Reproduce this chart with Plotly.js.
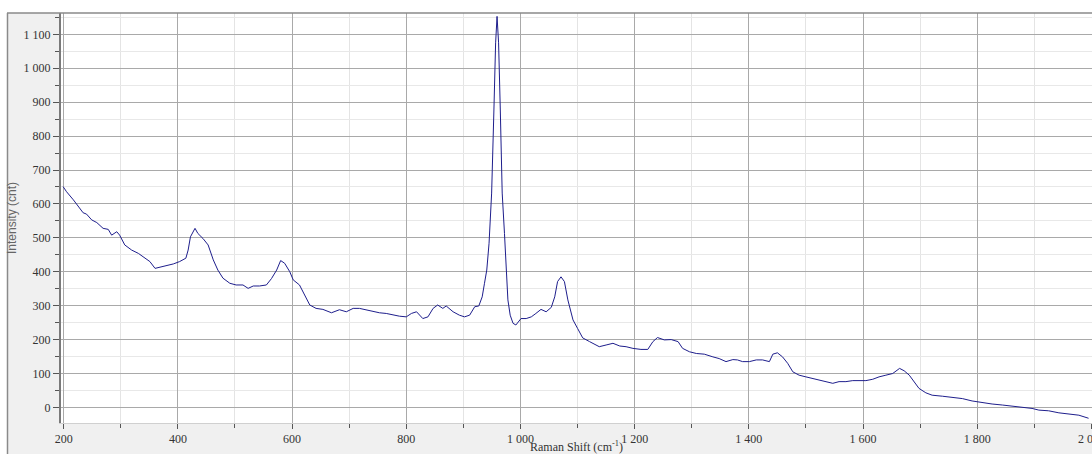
<!DOCTYPE html>
<html>
<head>
<meta charset="utf-8">
<script src="https://cdn.plot.ly/plotly-3.0.1.min.js"></script>
<style>html,body{margin:0;padding:0;background:#fff;}#chart{width:1092px;height:454px;}</style>
</head>
<body>
<div id="chart"></div>
<script>
const ramanShift = [199,205,217,226,234,240,249,258,269,278,284,293,298,307,319,331,342,351,360,368,380,392,403,414,418,422,430,435,444,453,462,470,479,491,502,514,523,532,543,555,564,573,580,587,596,602,613,622,631,642,654,669,683,695,707,718,730,742,753,765,777,788,800,809,818,829,838,847,855,864,870,882,893,902,911,920,927,933,937,941,945,949.5,953.5,956.5,959,961.7,964.7,968,972,975,978,982,987,992,1001,1010,1019,1027,1036,1045,1054,1060,1065,1071,1077,1083,1092,1100,1109,1121,1138,1150,1162,1174,1185,1197,1211,1223,1232,1240,1252,1264,1276,1284,1296,1308,1322,1337,1348,1360,1372,1380,1389,1401,1413,1424,1436,1442,1450,1459,1468,1477,1488,1500,1512,1523,1535,1547,1558,1570,1582,1593,1605,1617,1628,1640,1652,1664,1672,1681,1689,1698,1710,1721,1739,1757,1774,1791,1809,1826,1844,1861,1879,1896,1908,1925,1943,1960,1978,1995];
const intensity = [651,636,612,592,574,570,553,545,528,525,508,518,508,479,464,454,442,430,410,413,417,423,430,440,464,503,528,513,498,479,435,405,381,366,361,361,351,358,358,361,380,405,433,425,400,376,361,331,302,292,289,279,288,282,292,292,287,282,279,277,272,269,267,277,282,262,267,292,302,292,299,282,272,267,272,297,299,326,366,405,484,632,877,1075,1153,1075,877,632,513,395,317,272,248,243,262,262,267,277,289,282,295,326,371,385,371,317,258,233,205,194,179,184,189,181,179,174,171,171,194,206,199,200,194,174,164,159,157,149,144,135,141,140,135,135,140,140,135,157,161,149,130,105,95,90,85,81,76,71,76,76,79,79,79,83,90,95,100,115,108,95,76,56,43,36,33,29,26,19,14,10,7,4,0,-3,-8,-10,-16,-20,-23,-32];

const xTitle = 'Raman Shift (cm<sup>-1</sup>)';
const yTitle = 'Intensity (cnt)';

const tickFont = {family: 'Liberation Serif, Times New Roman, serif', size: 12, color: '#333'};

const trace = {
  x: ramanShift, y: intensity, type: 'scatter', mode: 'lines',
  line: {color: '#1e1e8c', width: 1}, hoverinfo: 'skip', showlegend: false
};

const L = 61, T = 13, W = 1092, H = 454, B = 31;
const pw = W - L, ph = H - T - B;
const px = v => (v - L) / pw;
const py = v => (H - B - v) / ph;

const layout = {
  width: W, height: H,
  margin: {l: L, r: 0, t: T, b: B, pad: 0},
  paper_bgcolor: '#ffffff', plot_bgcolor: '#ffffff',
  separators: '. ',
  font: tickFont,
  xaxis: {
    range: [195.3, 2001], tickmode: 'linear', tick0: 200, dtick: 200, tickformat: ',d',
    ticklabeloverflow: 'allow',
    showgrid: true, gridcolor: '#a9a9a9', gridwidth: 1,
    ticks: 'outside', ticklen: 5, tickcolor: '#555', tickwidth: 1,
    minor: {dtick: 100, showgrid: true, gridcolor: '#e4e4e4', ticks: 'outside', ticklen: 4, tickcolor: '#555'},
    showline: true, linecolor: '#d0d0d0', linewidth: 1,
    zeroline: false, tickfont: tickFont,
    title: {text: xTitle, font: tickFont, standoff: 4}
  },
  yaxis: {
    range: [-46, 1163], tickmode: 'linear', tick0: 0, dtick: 100, tickformat: ',d',
    showgrid: true, gridcolor: '#a9a9a9', gridwidth: 1,
    ticks: 'outside', ticklen: 6, tickcolor: '#555', tickwidth: 1,
    minor: {dtick: 50, showgrid: true, gridcolor: '#e8e8e8', ticks: 'outside', ticklen: 4, tickcolor: '#555'},
    showline: true, linecolor: '#7a7a7a', linewidth: 2,
    zeroline: false, tickfont: tickFont,
    title: {text: yTitle, font: {family: 'Liberation Sans, Arial, sans-serif', size: 12, color: '#666'}, standoff: 4}
  },
  shapes: [
    {type: 'rect', xref: 'paper', yref: 'paper', x0: px(7), x1: 0, y0: py(H), y1: 1, fillcolor: '#f0f0f0', line: {width: 0}, layer: 'below'},
    {type: 'rect', xref: 'paper', yref: 'paper', x0: 0, x1: 1.01, y0: py(H), y1: 0, fillcolor: '#f0f0f0', line: {width: 0}, layer: 'below'},
    {type: 'line', xref: 'paper', yref: 'paper', x0: px(7.5), x1: px(7.5), y0: py(H), y1: 1, line: {color: '#8a8a8a', width: 1.5}},
    {type: 'line', xref: 'paper', yref: 'paper', x0: px(7), x1: 1.01, y0: 1, y1: 1, line: {color: '#8a8a8a', width: 1.5}}
  ]
};

Plotly.newPlot('chart', [trace], layout, {displayModeBar: false, staticPlot: true});
</script>
</body>
</html>
